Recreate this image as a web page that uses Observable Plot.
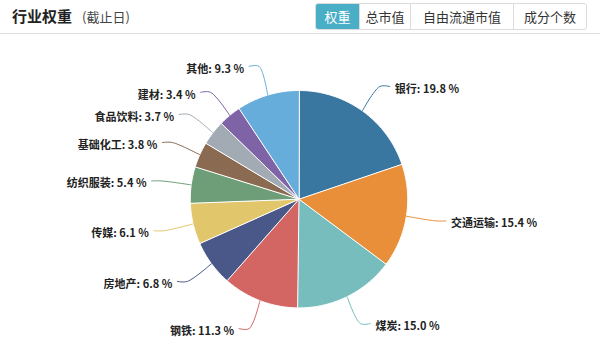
<!DOCTYPE html>
<html><head><meta charset="utf-8">
<script src="https://cdn.jsdelivr.net/npm/d3@7"></script>
<script src="https://cdn.jsdelivr.net/npm/@observablehq/plot@0.6"></script>
<style>
body{margin:0;background:#fff;font-family:"Noto Sans CJK SC","Noto Sans",sans-serif;}
#header{position:relative;height:33px;border-bottom:1px solid #dcdcdc;}
#title{position:absolute;left:12px;top:6px;line-height:20px;font-size:15px;font-weight:bold;color:#222;white-space:nowrap;}
#sub{font-size:13px;font-weight:normal;color:#444;margin-left:10px;}
#btns{position:absolute;left:315px;top:3px;height:27px;display:flex;border:1px solid #dcdcdc;border-radius:3px;box-sizing:border-box;overflow:hidden;}
.b{height:25px;line-height:25px;font-size:13px;color:#333;text-align:center;border-left:1px solid #dcdcdc;box-sizing:border-box;}
.b.first{border-left:none;}
.b.act{background:#4aaec7;color:#fff;}
#chart svg{display:block;}
</style></head>
<body>
<div id="header">
  <div id="title">行业权重<span id="sub">(截止日)</span></div>
  <div id="btns"></div>
</div>
<div id="chart"></div>
<script>
const names = ["银行","交通运输","煤炭","钢铁","房地产","传媒","纺织服装","基础化工","食品饮料","建材","其他"];
const values = [19.8,15.4,15.0,11.3,6.8,6.1,5.4,3.8,3.7,3.4,9.3];
const colors = ["#3a77a0","#ea8f39","#77bdbe","#d36663","#4a5889","#e2c66b","#6d9e77","#8b6a52","#a2abb4","#7e63a6","#66addb"];
const buttons = ["权重","总市值","自由流通市值","成分个数"];
const buttonWidths = [43,51,103,73];

const btns = document.getElementById("btns");
buttons.forEach((t,i)=>{
  const d = document.createElement("div");
  d.className = "b" + (i===0?" first act":"");
  d.style.width = buttonWidths[i] + "px";
  d.textContent = t;
  btns.appendChild(d);
});

const arcs = d3.pie().sort(null).value(d=>d.value)(names.map((n,i)=>({name:n,value:values[i]})));

const slicePts = [];
arcs.forEach(a=>{
  slicePts.push({name:a.data.name,x:0,y:0});
  const n = Math.max(2, Math.ceil((a.endAngle-a.startAngle)/(Math.PI/180)));
  for(let k=0;k<=n;k++){
    const t = a.startAngle + (a.endAngle-a.startAngle)*k/n;
    slicePts.push({name:a.data.name,x:Math.sin(t),y:Math.cos(t)});
  }
});

const R = 108.7;
const L1 = 30/R, L2 = 10/R;
const linePts = [], labels = [];
arcs.forEach(a=>{
  const m = (a.startAngle+a.endAngle)/2;
  const s = Math.sin(m), c = Math.cos(m);
  const side = s >= 0 ? 1 : -1;
  const x2 = (1+L1)*s, y2 = (1+L1)*c;
  linePts.push({name:a.data.name,x:s,y:c});
  linePts.push({name:a.data.name,x:x2,y:y2});
  linePts.push({name:a.data.name,x:x2+side*L2,y:y2});
  labels.push({name:a.data.name,x:x2+side*L2,y:y2,side,text:a.data.name+": "+a.data.value.toFixed(1)+" %"});
});

const plot = Plot.plot({
  width:600, height:319,
  marginLeft:189.8, marginRight:192.8, marginTop:56, marginBottom:45.6,
  x:{domain:[-1,1],axis:null},
  y:{domain:[-1,1],axis:null},
  color:{domain:names,range:colors},
  style:{fontFamily:'"Noto Sans CJK SC","Noto Sans",sans-serif',fontSize:"11px",background:"#fff"},
  marks:[
    Plot.line(slicePts,{x:"x",y:"y",z:"name",fill:"name",stroke:"#fff",strokeWidth:1,curve:"linear-closed"}),
    Plot.line(linePts,{x:"x",y:"y",z:"name",stroke:"name",strokeWidth:1,curve:"catmull-rom"}),
    Plot.text(labels.filter(d=>d.side>0),{x:"x",y:"y",text:"text",textAnchor:"start",dx:5,dy:3,fill:"#222",fontWeight:"bold",fontSize:11}),
    Plot.text(labels.filter(d=>d.side<0),{x:"x",y:"y",text:"text",textAnchor:"end",dx:-5,dy:3,fill:"#222",fontWeight:"bold",fontSize:11})
  ]
});
document.getElementById("chart").appendChild(plot);
</script>
</body></html>
